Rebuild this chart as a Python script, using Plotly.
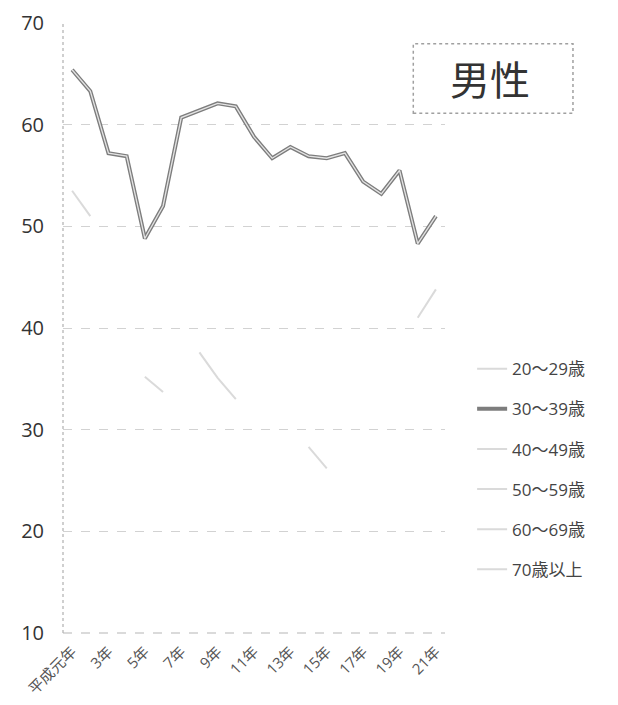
import plotly.graph_objects as go

# Survey years (Heisei era)
years = ["平成元年", "2年", "3年", "4年", "5年", "6年", "7年", "8年", "9年", "10年",
         "11年", "12年", "13年", "14年", "15年", "16年", "17年", "18年", "19年",
         "20年", "21年"]
tick_years = years[::2]

# Rates by age group (%); None where no value is shown
age_20s = [53.5, 51.0] + [None] * 19
age_30s = [65.4, 63.3, 57.2, 56.9, 48.8, 52.0, 60.7, 61.4, 62.1, 61.8, 58.8,
           56.7, 57.8, 56.9, 56.7, 57.2, 54.4, 53.2, 55.5, 48.3, 51.0]
age_40s = [None] * 19 + [41.0, 43.8]
age_50s = [None, None, None, None, 35.2, 33.7, None, 37.6, 35.1, 33.0] + [None] * 11
age_60s = [None] * 13 + [28.3, 26.2] + [None] * 6
age_70s = [None] * 21

names = ["20～29歳", "30～39歳", "40～49歳", "50～59歳", "60～69歳", "70歳以上"]

FONT = "Open Sans, Noto Sans CJK JP, sans-serif"
faint = "#dadada"

fig = go.Figure()

series = [age_20s, age_30s, age_40s, age_50s, age_60s, age_70s]
for name, vals in zip(names, series):
    if name == "30～39歳":
        fig.add_trace(go.Scatter(x=years, y=vals, name=name, mode="lines",
                                 legendgroup=name,
                                 line=dict(color="#7d7d7d", width=4.0)))
        fig.add_trace(go.Scatter(x=years, y=vals, name=name, mode="lines",
                                 legendgroup=name, showlegend=False,
                                 line=dict(color="#e4e4e4", width=1.3)))
    else:
        fig.add_trace(go.Scatter(x=years, y=vals, name=name, mode="lines",
                                 legendgroup=name,
                                 line=dict(color=faint, width=2)))

# dotted frame around the panel title
fig.add_shape(type="rect", xref="paper", yref="paper",
              x0=0.917, x1=1.335, y0=0.852, y1=0.966,
              line=dict(color="#a0a0a0", width=1.5, dash="dot"))
fig.add_annotation(text="男性", xref="paper", yref="paper",
                   x=1.117, y=0.908, xanchor="center", yanchor="middle",
                   showarrow=False,
                   font=dict(family=FONT, size=40, color="#333333"))

# dashed axis lines
fig.add_shape(type="line", xref="paper", yref="paper", x0=0, x1=0, y0=0, y1=1,
              line=dict(color="#b0b0b0", width=1.2, dash="dot"))
fig.add_shape(type="line", xref="paper", yref="paper", x0=0, x1=1, y0=0, y1=0,
              line=dict(color="#b5b5b5", width=1.2, dash="dash"))

fig.update_layout(
    width=618, height=705,
    margin=dict(l=63, r=173, t=23, b=72),
    paper_bgcolor="white", plot_bgcolor="white",
    font=dict(family=FONT, color="#444444"),
    showlegend=True,
    legend=dict(x=1.071, y=0.462, xanchor="left", yanchor="top",
                font=dict(family=FONT, size=17, color="#444444"),
                tracegroupgap=15, bgcolor="rgba(0,0,0,0)"),
    xaxis=dict(type="category", categoryorder="array", categoryarray=years,
               range=[-0.5, 20.5], tickvals=tick_years, ticktext=tick_years,
               tickangle=-45, showgrid=False, showline=False, zeroline=False,
               automargin=False,
               ticks="outside", ticklen=3, tickcolor="rgba(0,0,0,0)",
               tickfont=dict(family=FONT, size=15, color="#555555")),
    yaxis=dict(range=[10, 70], dtick=10, showline=False, zeroline=False,
               automargin=False,
               showgrid=True, gridcolor="#d2d2d2", griddash="dash", gridwidth=1,
               ticks="outside", ticklen=14, tickcolor="rgba(0,0,0,0)",
               tickfont=dict(family=FONT, size=20, color="#333333")),
)

fig.write_html("out.html")
